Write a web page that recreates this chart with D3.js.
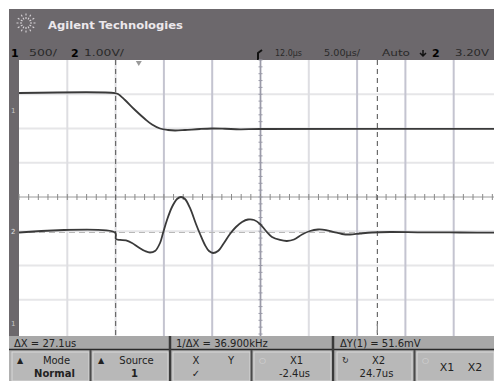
<!DOCTYPE html>
<html><head><meta charset="utf-8">
<script src="https://cdn.jsdelivr.net/npm/d3@7"></script>
<style>body{margin:0;background:#fff}svg{display:block}</style>
</head><body>
<script>
// ---- data ----
const timeRange = [-12.4, 37.6];          // μs across 10 divisions
const ch1Scale = 50;                      // mV/div
const ch2Scale = 1;                       // V/div
const ch1Time = [-12.4,-2.46,-2.15,-1.43,-0.39,0.64,1.37,2.20,3.02,3.75,4.78,6.34,7.58,8.93,10.48,12.55,37.6];
const ch1mV   = [151.8,151.8,150.4,141.6,127.0,113.9,105.8,100.0,97.8,97.1,97.8,99.3,100.0,99.6,98.8,99.3,99.3];
const ch2Time = [-12.4,-2.46,-2.36,-1.94,-1.32,-0.70,-0.08,0.64,1.16,1.68,2.20,2.51,2.92,3.44,3.96,4.37,4.78,5.30,5.92,6.34,6.85,7.27,7.68,8.20,8.82,9.44,10.06,10.69,11.31,11.93,12.55,13.17,13.79,14.62,15.34,16.07,16.90,17.72,18.55,19.38,20.21,21.04,21.87,22.90,24.14,26.01,29.11,33.25,37.6];
const ch2V    = [-1.036,-1.036,-1.226,-1.255,-1.270,-1.343,-1.460,-1.577,-1.620,-1.577,-1.343,-1.051,-0.672,-0.292,-0.058,0.000,-0.058,-0.321,-0.788,-1.080,-1.401,-1.577,-1.635,-1.577,-1.343,-1.080,-0.876,-0.730,-0.657,-0.672,-0.788,-0.993,-1.168,-1.255,-1.285,-1.241,-1.095,-0.993,-0.949,-0.964,-1.022,-1.080,-1.095,-1.066,-1.036,-1.022,-1.031,-1.036,-1.042];
const ch2Baseline = -1.036;
const cursorX1 = -2.4, cursorX2 = 24.7;
const headerLeft = ["1", "500/", "2", "1.00V/"];
const headerRight = ["12.0\u03bcs", "5.00\u03bcs/", "Auto", "2", "3.20V"];
const measures = ["\u0394X = 27.1us", "1/\u0394X = 36.900kHz", "\u0394Y(1) = 51.6mV"];
const buttons = [
  {icon:"\u25b2", l1:["Mode"], l2:"Normal"},
  {icon:"\u25b2", l1:["Source"], l2:"1"},
  {icon:"", l1:["X", "Y"], l2:"\u2713"},
  {icon:"\u25cb", l1:["X1"], l2:"-2.4us"},
  {icon:"\u21bb", l1:["X2"], l2:"24.7us"},
  {icon:"\u25cb", l1:["X1", "X2"], l2:""}
];

const W = 494, H = 381;
const svg = d3.select("body").append("svg").attr("width", W).attr("height", H);
const font = "DejaVu Sans, sans-serif";

// layout
const gx0 = 19, gx1 = 502, gy0 = 60, gy1 = 334;
const x = d3.scaleLinear().domain(timeRange).range([gx0, gx1]);
const y = d3.scaleLinear().domain([-4, 4]).range([gy1, gy0]);

// header
svg.append("rect").attr("x", 9).attr("y", 9).attr("width", W - 9).attr("height", 51).attr("fill", "#6c686c");
svg.append("rect").attr("x", 9).attr("y", 59).attr("width", 10).attr("height", 278).attr("fill", "#6c686c");

// logo
const logo = svg.append("g").attr("transform", "translate(26,23)");
for (let i = 0; i < 12; i++) {
  const a = i * Math.PI / 6;
  logo.append("line").attr("x1", Math.cos(a) * 4).attr("y1", Math.sin(a) * 4)
    .attr("x2", Math.cos(a) * 11).attr("y2", Math.sin(a) * 11)
    .attr("stroke", "#d8d4d8").attr("stroke-width", 1.1).attr("stroke-dasharray", "2,1.5");
}
svg.append("text").attr("x", 48).attr("y", 29).attr("font-family", font).attr("font-weight", "bold")
  .attr("font-size", 11).attr("fill", "#ece8ec").attr("textLength", 135).attr("lengthAdjust", "spacingAndGlyphs")
  .text("Agilent Technologies");

// header row 2
const hl = svg.append("g").attr("font-family", font).attr("font-size", 9.5);
hl.append("text").attr("x", 11).attr("y", 57).attr("font-weight", "bold").attr("font-size", 11).attr("fill", "#000").text(headerLeft[0]);
hl.append("text").attr("x", 29).attr("y", 56).attr("fill", "#2a2a2a").attr("textLength", 28).attr("lengthAdjust","spacingAndGlyphs").text(headerLeft[1]);
hl.append("text").attr("x", 71).attr("y", 57).attr("font-weight", "bold").attr("font-size", 11).attr("fill", "#000").text(headerLeft[2]);
hl.append("text").attr("x", 84).attr("y", 56).attr("fill", "#2a2a2a").attr("textLength", 40).attr("lengthAdjust","spacingAndGlyphs").text(headerLeft[3]);
svg.append("path").attr("d", "M258,60 L258,53 L262,50").attr("stroke", "#111").attr("stroke-width", 2).attr("fill", "none");
const hr = svg.append("g").attr("font-family", font).attr("font-size", 9.5).attr("fill", "#2a2a2a");
hr.append("text").attr("x", 275).attr("y", 56).attr("textLength", 27).attr("lengthAdjust","spacingAndGlyphs").text(headerRight[0]);
hr.append("text").attr("x", 324).attr("y", 56).attr("textLength", 36).attr("lengthAdjust","spacingAndGlyphs").text(headerRight[1]);
hr.append("text").attr("x", 382).attr("y", 56).attr("font-size", 8.5).attr("textLength", 28).attr("lengthAdjust","spacingAndGlyphs").text(headerRight[2]);
hr.append("path").attr("d", "M423,50 L423,56 M420,53 L423,56 L426,53").attr("stroke", "#111").attr("stroke-width", 1.5).attr("fill", "none");
hr.append("text").attr("x", 432).attr("y", 57).attr("font-weight", "bold").attr("font-size", 11).attr("fill", "#000").text(headerRight[3]);
hr.append("text").attr("x", 455).attr("y", 56).attr("textLength", 34).attr("lengthAdjust","spacingAndGlyphs").text(headerRight[4]);

// grid
const grid = svg.append("g");
d3.range(1, 8).forEach(i => {
  if (i === 4) return;
  const yy = y(-4 + i);
  grid.append("line").attr("x1", gx0).attr("x2", W).attr("y1", yy).attr("y2", yy)
    .attr("stroke", "#e6e6e8").attr("stroke-width", 2.2);
});
const darkV = [3, 4, 7, 8, 9];
d3.range(1, 10).forEach(i => {
  const xx = gx0 + i * (gx1 - gx0) / 10;
  grid.append("line").attr("x1", xx).attr("x2", xx).attr("y1", gy0).attr("y2", gy1 + 2)
    .attr("stroke", darkV.includes(i) ? "#c4c4d0" : "#dedee2").attr("stroke-width", 2);
});
const cy = y(0), cx = gx0 + 5 * (gx1 - gx0) / 10;
grid.append("line").attr("x1", gx0).attr("x2", W).attr("y1", cy).attr("y2", cy).attr("stroke", "#9a9a9a").attr("stroke-width", 1);
grid.append("line").attr("x1", cx).attr("x2", cx).attr("y1", gy0).attr("y2", gy1 + 2).attr("stroke", "#9a9aa8").attr("stroke-width", 1.5);
const minorX = d3.range(0, 50).map(i => gx0 + i * (gx1 - gx0) / 50).filter(v => v < W);
grid.selectAll(".mx").data(minorX).join("line").attr("x1", d => d).attr("x2", d => d)
  .attr("y1", cy - 3).attr("y2", cy + 3).attr("stroke", "#8a8a8a").attr("stroke-width", 1);
const minorY = d3.range(0, 41).map(i => gy0 + i * (gy1 - gy0) / 40);
grid.selectAll(".my").data(minorY).join("line").attr("x1", cx - 2).attr("x2", cx + 2)
  .attr("y1", d => d).attr("y2", d => d).attr("stroke", "#9a9aa8").attr("stroke-width", 1);

grid.append("line").attr("x1", gx0).attr("x2", W).attr("y1", y(ch2Baseline / ch2Scale)).attr("y2", y(ch2Baseline / ch2Scale))
  .attr("stroke", "#b8b8b8").attr("stroke-width", 1.2).attr("stroke-dasharray", "6,4");

[cursorX1, cursorX2].forEach(c => {
  svg.append("line").attr("x1", x(c)).attr("x2", x(c)).attr("y1", gy0).attr("y2", gy1 + 2)
    .attr("stroke", "#6a6a6a").attr("stroke-width", 1.2).attr("stroke-dasharray", "5,4");
});
svg.append("path").attr("d", `M${x(0)-3},61 L${x(0)+3},61 L${x(0)},66 Z`).attr("fill", "#999");
svg.append("line").attr("x1", x(cursorX2)).attr("x2", x(cursorX2)).attr("y1", 324).attr("y2", 333).attr("stroke", "#888").attr("stroke-width", 1.2);

// traces
const line = d3.line().curve(d3.curveCatmullRom.alpha(0.5));
const ch1Pts = ch1Time.map((t, i) => [x(t), y(ch1mV[i] / ch1Scale)]);
const ch2Pts = ch2Time.map((t, i) => [x(t), y(ch2V[i] / ch2Scale)]);
svg.append("clipPath").attr("id", "clip").append("rect").attr("x", gx0).attr("y", gy0).attr("width", W - gx0).attr("height", gy1 - gy0);
const traces = svg.append("g").attr("clip-path", "url(#clip)");
[ch1Pts, ch2Pts].forEach(p => {
  traces.append("path").attr("d", line(p)).attr("fill", "none").attr("stroke", "#3a3a3a")
    .attr("stroke-width", 1.8);
});

// left strip markers
const lm = svg.append("g").attr("font-family", font).attr("font-size", 7).attr("fill", "#c8c8c8");
lm.append("text").attr("x", 11).attr("y", y(ch1mV[0] / ch1Scale) + 20).text("1");
lm.append("text").attr("x", 11).attr("y", y(ch2Baseline) + 2).attr("fill", "#e0e0e0").text("2");
lm.append("text").attr("x", 11).attr("y", 326).text("1");

// bottom measurement bar
svg.append("rect").attr("x", 9).attr("y", 336).attr("width", W - 9).attr("height", 45).attr("fill", "#b0b0b0");
svg.append("rect").attr("x", 9).attr("y", 336).attr("width", W - 9).attr("height", 13).attr("fill", "#a8a8a8");
svg.append("line").attr("x1", 9).attr("x2", W).attr("y1", 349.5).attr("y2", 349.5).attr("stroke", "#2a2a2a").attr("stroke-width", 1.3);
const segX = [14, 176, 340];
measures.forEach((m, i) => {
  svg.append("text").attr("x", segX[i]).attr("y", 347).attr("font-family", font).attr("font-size", 10).attr("fill", "#222").text(m);
});
[170, 333].forEach(d => {
  svg.append("line").attr("x1", d).attr("x2", d).attr("y1", 336).attr("y2", H).attr("stroke", "#3a3a3a").attr("stroke-width", 2.5);
});

// buttons
const bx = [[12, 89], [93, 168], [173, 250], [254, 331], [337, 412], [417, 494]];
buttons.forEach((b, i) => {
  const [a, e] = bx[i];
  const g = svg.append("g").attr("font-family", font).attr("fill", "#222");
  g.append("rect").attr("x", a).attr("y", 352).attr("width", e - a).attr("height", 29).attr("fill", "#b8b8b8")
    .attr("stroke", "#d8d8d8").attr("stroke-width", 1);
  if (b.icon) g.append("text").attr("x", a + 5).attr("y", 363).attr("font-size", 8).attr("fill", i === 3 || i === 5 ? "#d8d8d8" : "#222").text(b.icon);
  if (i === 2) {
    g.append("text").attr("x", 196).attr("y", 364).attr("text-anchor", "middle").attr("font-size", 10).text(b.l1[0]);
    g.append("text").attr("x", 231).attr("y", 364).attr("text-anchor", "middle").attr("font-size", 10).text(b.l1[1]);
    g.append("text").attr("x", 196).attr("y", 377).attr("text-anchor", "middle").attr("font-size", 10).text(b.l2);
  } else if (i === 5) {
    g.append("text").attr("x", 447).attr("y", 371).attr("text-anchor", "middle").attr("font-size", 11).text(b.l1[0]);
    g.append("text").attr("x", 475).attr("y", 371).attr("text-anchor", "middle").attr("font-size", 11).text(b.l1[1]);
  } else {
    const mid = (a + e) / 2 + (i < 2 ? 6 : 4);
    g.append("text").attr("x", mid).attr("y", 364).attr("text-anchor", "middle").attr("font-size", 10).text(b.l1[0]);
    g.append("text").attr("x", mid - 2).attr("y", 377).attr("text-anchor", "middle").attr("font-size", 10).attr("font-weight", i < 2 ? "bold" : "normal").text(b.l2);
  }
});
[90.5, 251.5, 414.5].forEach(d => {
  svg.append("line").attr("x1", d).attr("x2", d).attr("y1", 350).attr("y2", H).attr("stroke", "#4a4a4a").attr("stroke-width", 2);
});
</script>
</body></html>
